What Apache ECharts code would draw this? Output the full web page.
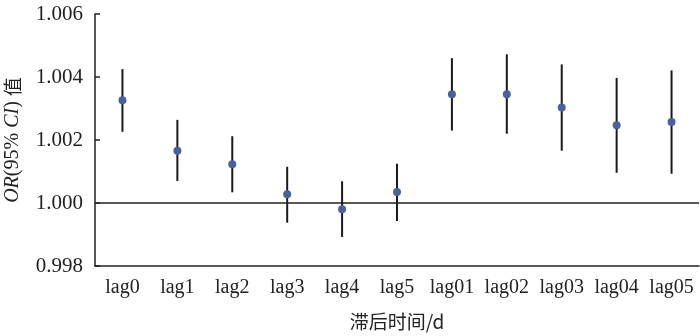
<!DOCTYPE html>
<html>
<head>
<meta charset="utf-8">
<script src="https://cdn.jsdelivr.net/npm/echarts@6/dist/echarts.min.js"></script>
<style>
  html, body { margin: 0; padding: 0; background: #fff; }
  #chart { width: 700px; height: 336px; }
</style>
</head>
<body>
<div id="chart"></div>
<script>
// 滞后时间
const categories = ["lag0", "lag1", "lag2", "lag3", "lag4", "lag5", "lag01", "lag02", "lag03", "lag04", "lag05"]
// OR 值及 95% CI
const orValues = [1.00326, 1.00166, 1.00123, 1.000275, 0.9998, 1.00035, 1.00345, 1.00345, 1.00303, 1.00247, 1.00257]
const lowerCI = [1.00226, 1.0007, 1.00034, 0.999375, 0.99892, 0.99943, 1.0023, 1.0022, 1.00166, 1.00096, 1.00093]
const upperCI = [1.00425, 1.00264, 1.00212, 1.00115, 1.00069, 1.00125, 1.0046, 1.00472, 1.0044, 1.00397, 1.00421]
const yTicks = { min: 0.998, max: 1.006, interval: 0.002 }

const myChart = echarts.init(document.getElementById("chart"))

const serif = "'Liberation Serif', 'Times New Roman', serif"
const cjk = "'Noto Sans CJK SC', sans-serif"

const option = {
  animation: false,
  grid: {
    left: 95,
    right: 1,
    top: 14,
    bottom: 70,
    containLabel: false,
    outerBoundsMode: "none"
  },
  xAxis: {
    type: "category",
    data: categories,
    name: "滞后时间/d",
    nameLocation: "middle",
    nameGap: 46,
    nameTextStyle: {
      fontFamily: cjk,
      fontSize: 19,
      color: "#222"
    },
    axisLine: {
      lineStyle: { color: "#222", width: 1.5 }
    },
    axisTick: {
      inside: true,
      length: 5,
      lineStyle: { color: "#222", width: 1.5 }
    },
    axisLabel: {
      interval: 0,
      hideOverlap: false,
      fontFamily: serif,
      fontSize: 20,
      color: "#222",
      margin: 12
    },
    splitLine: { show: false }
  },
  yAxis: {
    type: "value",
    min: yTicks.min,
    max: yTicks.max,
    interval: yTicks.interval,
    name: "{i|OR}(95% {i|CI}) {c|值}",
    nameLocation: "middle",
    nameGap: 72,
    nameTextStyle: {
      fontFamily: serif,
      fontSize: 20,
      color: "#222",
      rich: {
        i: { fontFamily: serif, fontStyle: "italic", fontSize: 20, color: "#222" },
        c: { fontFamily: cjk, fontSize: 19, color: "#222" }
      }
    },
    axisLine: {
      show: true,
      lineStyle: { color: "#222", width: 1.5 }
    },
    axisTick: {
      show: true,
      inside: true,
      length: 5,
      lineStyle: { color: "#222", width: 1.5 }
    },
    axisLabel: {
      fontFamily: serif,
      fontSize: 21,
      color: "#222",
      margin: 12,
      formatter: v => v.toFixed(3)
    },
    splitLine: { show: false }
  },
  series: [
    {
      // 误差线
      type: "custom",
      data: categories.map((c, i) => [i, lowerCI[i], upperCI[i]]),
      renderItem: function (params, api) {
        const lo = api.coord([api.value(0), api.value(1)])
        const hi = api.coord([api.value(0), api.value(2)])
        return {
          type: "line",
          shape: { x1: lo[0], y1: lo[1], x2: hi[0], y2: hi[1] },
          style: { stroke: "#1a1a1a", lineWidth: 2 }
        }
      },
      z: 2
    },
    {
      type: "scatter",
      data: orValues,
      symbolSize: 8,
      itemStyle: { color: "#4a6299", opacity: 1 },
      z: 3,
      markLine: {
        silent: true,
        symbol: "none",
        label: { show: false },
        lineStyle: { color: "#222", type: "solid", width: 1.5 },
        data: [{ yAxis: 1.0 }]
      }
    }
  ]
}
myChart.setOption(option, true)
</script>
</body>
</html>
